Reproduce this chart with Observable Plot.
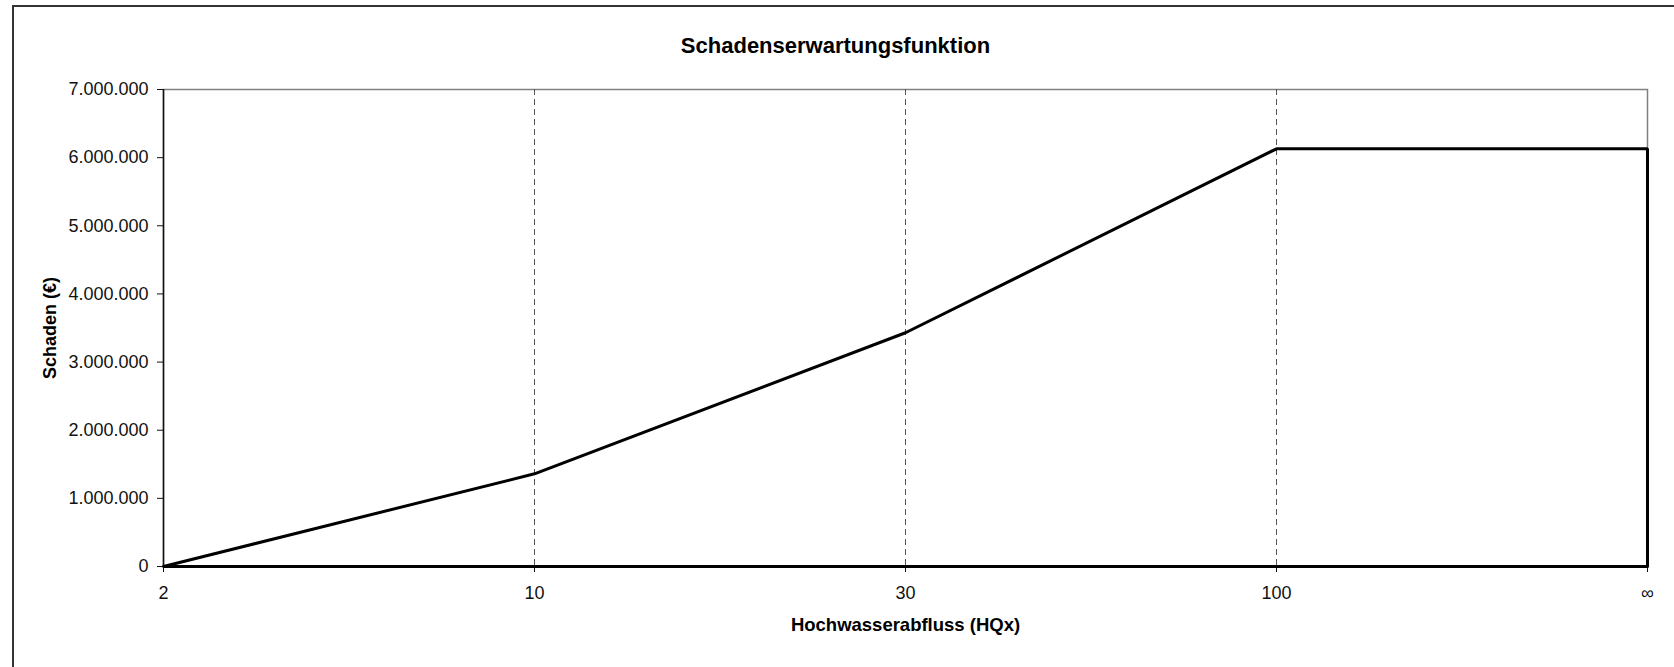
<!DOCTYPE html>
<html>
<head>
<meta charset="utf-8">
<script src="https://cdn.jsdelivr.net/npm/d3@7"></script>
<script src="https://cdn.jsdelivr.net/npm/@observablehq/plot@0.6"></script>
<style>
  html, body { margin: 0; padding: 0; background: #fff; }
  #wrap { position: relative; width: 1674px; height: 667px; overflow: hidden; }
  #border { position: absolute; left: 12px; top: 5px; width: 1700px; height: 700px;
            border-left: 2px solid #333; border-top: 2px solid #333; box-sizing: border-box; }
  #chart { position: absolute; left: 0; top: 0; }
</style>
</head>
<body>
<div id="wrap"><div id="border"></div><div id="chart"></div></div>
<script>
// Data
const categories = ["2", "10", "30", "100", "∞"];
const seriesX = ["2", "10", "30", "100", "∞", "∞"];
const seriesY = [0, 1360000, 3430000, 6130000, 6130000, 0];
const yTicks = [0, 1000000, 2000000, 3000000, 4000000, 5000000, 6000000, 7000000];
const gridCategories = ["10", "30", "100"];
const titleText = "Schadenserwartungsfunktion";
const xTitle = "Hochwasserabfluss (HQx)";
const yTitle = "Schaden (€)";

const data = seriesX.map((x, i) => ({x, y: seriesY[i]}));
const de = d3.formatLocale({decimal: ",", thousands: ".", grouping: [3], currency: ["", "€"]});
const fmt = de.format(",");

const font = "'Liberation Sans', Arial, sans-serif";

const chart = Plot.plot({
  width: 1674,
  height: 667,
  marginLeft: 163,
  marginRight: 27,
  marginTop: 89,
  marginBottom: 101,
  style: {fontFamily: font, fontSize: "18px", color: "#111", background: "transparent"},
  x: {type: "point", domain: categories, padding: 0, label: null},
  y: {domain: [0, 7000000], label: null},
  marks: [
    Plot.frame({stroke: "#808080", strokeWidth: 1.5}),
    Plot.ruleX(gridCategories, {stroke: "#555", strokeWidth: 1, strokeDasharray: "6,4"}),
    Plot.ruleX(["2"], {stroke: "#111", strokeWidth: 1.5}),
    Plot.axisY({ticks: yTicks, tickFormat: fmt, tickSize: 6, tickPadding: 9, label: null, fontSize: 18, stroke: "#111"}),
    Plot.axisX({ticks: categories, tickSize: 6, tickPadding: 14, label: null, fontSize: 18, stroke: "#111"}),
    Plot.ruleY([0], {stroke: "#000", strokeWidth: 3}),
    Plot.line(data, {x: "x", y: "y", stroke: "#000", strokeWidth: 3, strokeLinejoin: "miter"}),
    Plot.text([titleText], {frameAnchor: "top", dx: -70, dy: -44, fontSize: 22, fontWeight: "bold", fill: "#000", lineAnchor: "middle"}),
    Plot.text([xTitle], {frameAnchor: "bottom", dy: 59, fontSize: 18.5, fontWeight: "bold", fill: "#000", lineAnchor: "middle"}),
    Plot.text([yTitle], {frameAnchor: "left", dx: -113, rotate: -90, fontSize: 18, fontWeight: "bold", fill: "#000", textAnchor: "middle", lineAnchor: "middle"})
  ]
});
document.getElementById("chart").appendChild(chart);
</script>
</body>
</html>
